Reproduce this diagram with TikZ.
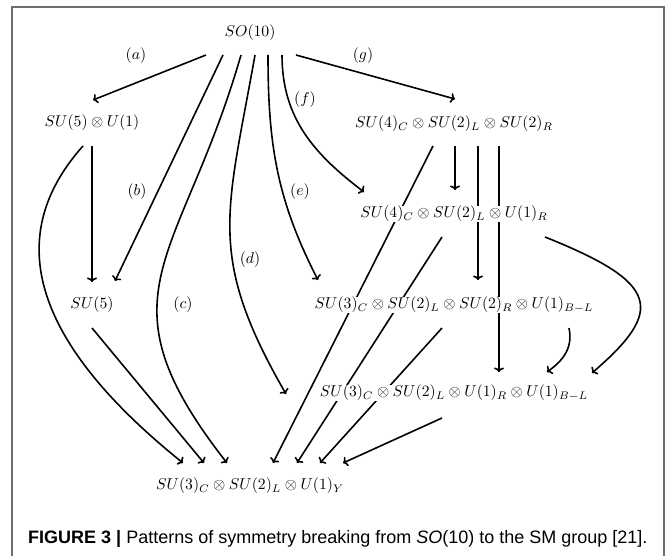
\documentclass[tikz,border=0pt]{standalone}
\usepackage{graphicx}
\usepackage{fontspec}
\newfontfamily\capfont{Liberation Sans}
\usetikzlibrary{arrows.meta,calc}
\definecolor{framegray}{HTML}{6E6E6E}
\pgfdeclarelayer{bg}
\pgfsetlayers{bg,main}
\newcommand\mbig[1]{\scalebox{1.57}{$#1$}}
\begin{document}
\begin{tikzpicture}[x=1pt,y=1pt,
  grp/.style={fill=white,inner sep=0.5pt},
  lab/.style={inner sep=0pt},
  arr/.style={line width=1.6pt,-{To[length=4.5pt,width=10pt]}},
  framel/.style={line width=1.5pt,draw=framegray}]
\useasboundingbox (0,0) rectangle (670,-556);
\draw[framel] (12,-560) -- (12,-7) -- (664,-7) -- (664,-560);

\node[grp] (so10)  at (250,-33)  {\mbig{SO(10)}};
\node[grp] (su5u1) at (92,-123)  {\mbig{SU(5)\otimes U(1)}};
\node[grp] (su4r)  at (454,-124) {\mbig{SU(4)_C\otimes SU(2)_L\otimes SU(2)_R}};
\node[grp] (su4u1) at (454,-214) {\mbig{SU(4)_C\otimes SU(2)_L\otimes U(1)_R}};
\node[grp] (su5)   at (92,-305)  {\mbig{SU(5)}};
\node[grp] (lr)    at (454,-305) {\mbig{SU(3)_C\otimes SU(2)_L\otimes SU(2)_R\otimes U(1)_{B-L}}};
\node[grp] (rbl)   at (454,-393) {\mbig{SU(3)_C\otimes SU(2)_L\otimes U(1)_R\otimes U(1)_{B-L}}};
\node[grp] (sm)    at (250,-486) {\mbig{SU(3)_C\otimes SU(2)_L\otimes U(1)_Y}};

\node[lab] (la) at (136,-56)  {\mbig{(a)}};
\node[lab] (lb) at (137,-192) {\mbig{(b)}};
\node[lab] (lc) at (183,-305) {\mbig{(c)}};
\node[lab] (ld) at (250,-260) {\mbig{(d)}};
\node[lab] (le) at (300,-192) {\mbig{(e)}};
\node[lab] (lf) at (305,-100) {\mbig{(f)}};
\node[lab] (lg) at (363,-56)  {\mbig{(g)}};

\node[anchor=west,inner sep=0pt,font=\capfont\fontsize{18}{22}\selectfont] (cap) at (28,-539)
  {\textbf{FIGURE 3 |} Patterns of symmetry breaking from \textit{SO}(10) to the SM group [21].};

\begin{pgfonlayer}{bg}
% from SO(10)
\draw[arr] ($(so10)+(-44,-22)$) -- ($(su5u1)+(1,23)$);
\draw[arr] ($(so10)+(-27,-22)$) -- ($(su5)+(23,24)$);
\draw[arr] ($(so10)+(-9,-22)$) .. controls (181,-263) and (94,-293) .. ($(sm)+(-23,23)$);
\draw[arr] ($(so10)+(5,-22)$) .. controls (227,-213) and (206,-255) .. ($(rbl)+(-168,-1)$);
\draw[arr] ($(so10)+(18,-22)$) .. controls (268,-145) and (277,-200) .. ($(lr)+(-136,25)$);
\draw[arr] ($(so10)+(32,-22)$) .. controls (282,-118) and (314,-154) .. ($(su4u1)+(-90,22)$);
\draw[arr] ($(so10)+(46,-22)$) -- ($(su4r)+(1,25)$);
% from SU(5)xU(1)
\draw[arr] ($(su5u1)+(0,-23)$) -- ($(su5)+(0,23)$);
\draw[arr] ($(su5u1)+(-9,-23)$) .. controls (-10,-250) and (55,-360) .. ($(sm)+(-67,23)$);
% from SU(5)
\draw[arr] ($(su5)+(0,-23)$) -- ($(sm)+(-46,23)$);
% from SU(4)xSU(2)xSU(2)
\draw[arr] ($(su4r)+(1,-22)$) -- ($(su4u1)+(1,24)$);
\draw[arr] ($(su4r)+(24,-22)$) -- ($(lr)+(24,25)$);
\draw[arr] ($(su4r)+(45,-22)$) -- ($(rbl)+(45,21)$);
\draw[arr] ($(su4r)+(-21,-22)$) -- ($(sm)+(23,23)$);
% from SU(4)xSU(2)xU(1)
\draw[arr] ($(su4u1)+(-12,-23)$) -- ($(sm)+(47,23)$);
\draw[arr] ($(su4u1)+(91,-23)$) .. controls (660,-283) and (665,-310) .. ($(rbl)+(138,20)$);
% from SU(3)xSU(2)xSU(2)xU(1)
\draw[arr] ($(lr)+(115,-23)$) .. controls (573,-347) and (564,-360) .. ($(rbl)+(93,21)$);
\draw[arr] ($(lr)+(-12,-23)$) -- ($(sm)+(70,23)$);
% from SU(3)xSU(2)xU(1)xU(1)
\draw[arr] ($(rbl)+(-12,-25)$) -- ($(sm)+(93,23)$);
\end{pgfonlayer}
\end{tikzpicture}
\end{document}
